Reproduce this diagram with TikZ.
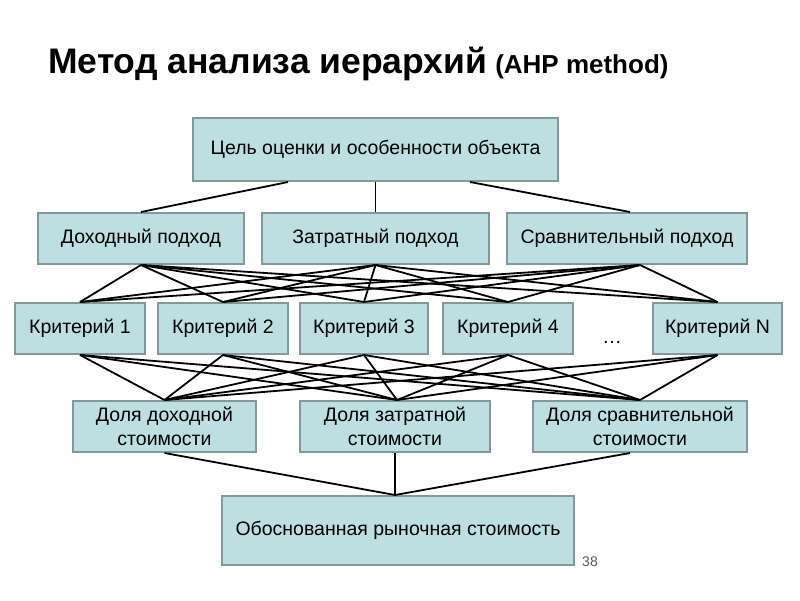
\documentclass[tikz,border=0pt]{standalone}
\usepackage{fontspec}
\setmainfont{Liberation Sans}
\definecolor{boxfill}{RGB}{189,223,226}
\definecolor{boxline}{RGB}{130,152,154}
\definecolor{numgray}{RGB}{90,90,90}
\begin{document}
\begin{tikzpicture}[x=1pt,y=-1pt,
  box/.style={draw=boxline,line width=2pt,fill=boxfill,inner sep=0pt,align=center,
    font=\fontsize{19.5}{24.5}\selectfont},
  link/.style={draw=black,line width=1.8pt}]
\useasboundingbox (0,0) rectangle (800,600);
\fill[white] (0,0) rectangle (800,600);
% title
\node[anchor=base west,inner sep=0pt,font=\bfseries\fontsize{35.5}{40}\selectfont] (title) at (48,73)
  {Метод анализа иерархий\hspace{8pt}\fontsize{26}{30}\selectfont(AHP method)};
% boxes
\node[box,minimum width=365pt,minimum height=63pt] (G) at (375.5,149.5) {Цель оценки и особенности объекта};
\node[box,minimum width=206pt,minimum height=51pt] (A1) at (141,238.5) {Доходный подход};
\node[box,minimum width=227pt,minimum height=51pt] (A2) at (375.5,238.5) {Затратный подход};
\node[box,minimum width=240pt,minimum height=51pt] (A3) at (627,238.5) {Сравнительный подход};
\node[box,minimum width=130pt,minimum height=51pt] (K1) at (80,328.5) {Критерий 1};
\node[box,minimum width=130pt,minimum height=51pt] (K2) at (223,328.5) {Критерий 2};
\node[box,minimum width=128pt,minimum height=51pt] (K3) at (364,328.5) {Критерий 3};
\node[box,minimum width=130pt,minimum height=51pt] (K4) at (508,328.5) {Критерий 4};
\node[box,minimum width=129pt,minimum height=51pt] (KN) at (717.5,328.5) {Критерий N};
\node[font=\fontsize{19.5}{23}\selectfont,inner sep=0pt] (dots) at (612,342) {…};
\node[box,minimum width=183pt,minimum height=51pt] (D1) at (164.5,426.5) {Доля доходной\\стоимости};
\node[box,minimum width=190pt,minimum height=51pt] (D2) at (395,426.5) {Доля затратной\\стоимости};
\node[box,minimum width=214pt,minimum height=51pt] (D3) at (640,426.5) {Доля сравнительной\\стоимости};
\node[box,minimum width=352pt,minimum height=69pt] (R) at (398,530.5) {Обоснованная рыночная стоимость};
\node[anchor=center,inner sep=0pt,text=numgray,font=\fontsize{14}{16}\selectfont] (num) at (590,562) {38};
% connectors goal -> approaches
\coordinate (Gl) at ([xshift=-87.5pt]G.south);
\coordinate (Gr) at ([xshift=94.5pt]G.south);
\coordinate (A3t) at ([xshift=3pt]A3.north);
\draw[link] (Gl) -- (A1.north);
\draw[link] (G.south) -- (A2.north);
\draw[link] (Gr) -- (A3t);
% approaches -> criteria
\coordinate (A3b) at ([xshift=13pt]A3.south);
\foreach \a in {A1.south,A2.south,A3b}
  \foreach \k in {K1,K2,K3,K4,KN}
    \draw[link] (\a) -- (\k.north);
% criteria -> shares
\coordinate (D2t) at ([xshift=2pt]D2.north);
\foreach \k in {K1,K2,K3,K4,KN}
  \foreach \d in {D1.north,D2t,D3.north}
    \draw[link] (\k.south) -- (\d);
% shares -> result
\coordinate (Rt) at ([xshift=-3pt]R.north);
\coordinate (D3b) at ([xshift=-10pt]D3.south);
\draw[link] (D1.south) -- (Rt);
\draw[link] (D2.south) -- (Rt);
\draw[link] (D3b) -- (Rt);
\end{tikzpicture}
\end{document}
